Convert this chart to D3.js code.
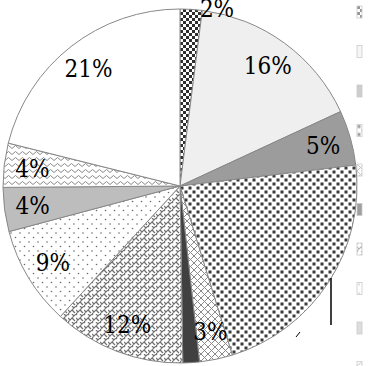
<!DOCTYPE html>
<html><head><meta charset="utf-8">
<script src="https://cdn.jsdelivr.net/npm/d3@7"></script>
<style>html,body{margin:0;padding:0;background:#fff;overflow:hidden}
text.lbl{font-family:"DejaVu Serif Condensed","DejaVu Serif",serif;font-stretch:condensed;font-size:24px}
text.leg{font-family:"DejaVu Serif Condensed","DejaVu Serif",serif;font-size:13px;fill:#999}</style>
</head><body><svg id="chart" width="372" height="366"></svg>
<script>
// ---- data ----
const categories = ["Item A","Item B","Item C","Item D","Item E","Item F","Item G","Item H","Item I","Item J","Item K"];
const values = [2, 16, 5, 22, 3, 1.5, 12, 9, 4, 4, 21];
const labels = ["2%", "16%", "5%", "", "3%", "1%", "12%", "9%", "4%", "4%", "21%"];

// ---- styles ----
const fills = ["url(#checker)", "#efefef", "#9c9c9c", "url(#bigdots)", "url(#cross)", "#404040",
               "url(#maze)", "url(#sparse)", "#bdbdbd", "url(#wave)", "#ffffff"];

const W = 372, H = 366, cx = 180, cy = 186, R = 177;
const svg = d3.select("#chart");
const defs = svg.append("defs");
function pat(id, w, h, bg, draw) {
  const p = defs.append("pattern").attr("id", id).attr("patternUnits", "userSpaceOnUse")
    .attr("width", w).attr("height", h);
  p.append("rect").attr("width", w).attr("height", h).attr("fill", bg);
  draw(p);
}
pat("checker", 6, 6, "#fff", p => {
  p.append("rect").attr("width", 3).attr("height", 3).attr("fill", "#2e2e2e");
  p.append("rect").attr("x", 3).attr("y", 3).attr("width", 3).attr("height", 3).attr("fill", "#2e2e2e");
});
pat("bigdots", 8, 8, "#fff", p => {
  p.append("rect").attr("x", 0.5).attr("y", 0.5).attr("width", 3).attr("height", 3).attr("fill", "#3a3a3a");
  p.append("rect").attr("x", 4.5).attr("y", 4.5).attr("width", 3).attr("height", 3).attr("fill", "#3a3a3a");
});
pat("cross", 7, 7, "#fff", p => {
  p.append("path").attr("d", "M0,0L7,7M7,0L0,7").attr("stroke", "#8a8a8a").attr("stroke-width", 1).attr("fill", "none");
});
pat("maze", 8, 8, "#fff", p => {
  p.append("path").attr("d", "M0,8L8,0M4,4L7,7M0,4L2,6M4,0L6,2M-1,-1L1,1")
    .attr("stroke", "#707070").attr("stroke-width", 1.2).attr("fill", "none");
});
pat("sparse", 9, 9, "#fff", p => {
  p.append("circle").attr("cx", 2).attr("cy", 2).attr("r", 0.8).attr("fill", "#6a6a6a");
  p.append("circle").attr("cx", 6.5).attr("cy", 6.5).attr("r", 0.8).attr("fill", "#6a6a6a");
});
pat("wave", 7, 6, "#fff", p => {
  p.append("path").attr("d", "M0,4.5L3.5,1.5L7,4.5").attr("stroke", "#8a8a8a").attr("stroke-width", 1).attr("fill", "none");
});

const pie = d3.pie().sort(null).value(d => d);
const arcs = pie(values);
const arc = d3.arc().innerRadius(0).outerRadius(R);
const g = svg.append("g").attr("transform", `translate(${cx},${cy})`);

g.selectAll("path.slice").data(arcs).join("path")
  .attr("class", "slice")
  .attr("d", arc)
  .attr("fill", (d, i) => fills[i])
  .attr("stroke", "#888")
  .attr("stroke-width", 1);

// labels: inside at 0.84R; very small slices placed outside
const inner = d3.arc().innerRadius(R * 0.84).outerRadius(R * 0.84);
const outsidePolar = { 0: [11.8, 181], 5: [175, 192] };
g.selectAll("text.lbl").data(arcs).join("text")
  .attr("class", "lbl")
  .attr("transform", (d, i) => {
    if (outsidePolar[i]) {
      const a = outsidePolar[i][0] * Math.PI / 180, r = outsidePolar[i][1];
      return `translate(${Math.sin(a) * r},${-Math.cos(a) * r})`;
    }
    const c = inner.centroid(d);
    return `translate(${c[0]},${c[1]})`;
  })
  .attr("text-anchor", "middle")
  .attr("dy", "0.35em")
  .attr("fill", "#000")
  .text((d, i) => labels[i]);

// leader strokes
svg.append("line").attr("x1", 331).attr("y1", 278).attr("x2", 331).attr("y2", 325)
  .attr("stroke", "#000").attr("stroke-width", 1.5);
svg.append("line").attr("x1", 296).attr("y1", 337).attr("x2", 300).attr("y2", 332)
  .attr("stroke", "#000").attr("stroke-width", 1);

// legend (clipped at the right edge of the picture)
const leg = svg.append("g").attr("transform", "translate(357,6)");
const items = leg.selectAll("g").data(categories).join("g")
  .attr("transform", (d, i) => `translate(0,${i * 39.5})`);
items.append("rect")
  .attr("width", 5).attr("height", 12)
  .attr("fill", (d, i) => fills[i]).attr("stroke", "#999").attr("stroke-width", 0.8)
  .attr("opacity", 0.5);
items.append("text").attr("class", "leg").attr("x", 20).attr("y", 10).text(d => d);
</script>
</body></html>
